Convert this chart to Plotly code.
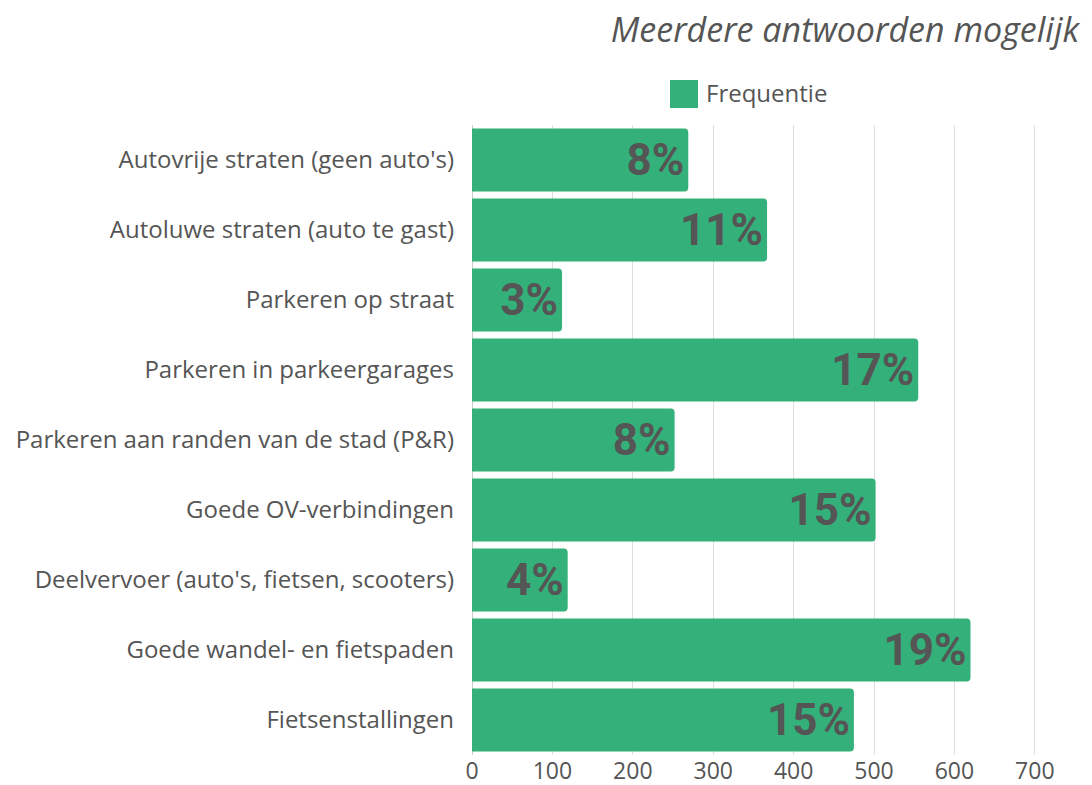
import plotly.graph_objects as go

categories = [
    "Autovrije straten (geen auto's)",
    "Autoluwe straten (auto te gast)",
    "Parkeren op straat",
    "Parkeren in parkeergarages",
    "Parkeren aan randen van de stad (P&R)",
    "Goede OV-verbindingen",
    "Deelvervoer (auto's, fietsen, scooters)",
    "Goede wandel- en fietspaden",
    "Fietsenstallingen",
]
frequencies = [269, 367, 112, 555, 252, 502, 119, 620, 475]
percent_labels = ["8%", "11%", "3%", "17%", "8%", "15%", "4%", "19%", "15%"]
x_ticks = [0, 100, 200, 300, 400, 500, 600, 700]
series_name = "Frequentie"
subtitle = "Meerdere antwoorden mogelijk"

GREEN = "#34B07A"
GREY = "#555555"

# page has an 8px body margin; figure is sized to fill the rest of the window
W, H = 1084, 777

fig = go.Figure()
fig.add_trace(go.Bar(
    y=categories,
    x=frequencies,
    orientation="h",
    name=series_name,
    marker=dict(color=GREEN, line=dict(width=0)),
    text=percent_labels,
    textposition="inside",
    insidetextanchor="end",
    constraintext="none",
    textfont=dict(family="Roboto, sans-serif", size=44, color=GREY, weight="bold"),
    hoverinfo="x+y",
    showlegend=False,
))

# legend swatch + label (drawn larger than Plotly's native legend symbol)
fig.add_shape(type="rect", xref="paper", yref="paper",
              x0=(670 - 472) / 603, x1=(698 - 472) / 603,
              y0=1 + (125 - 108) / 630, y1=1 + (125 - 80) / 630,
              fillcolor=GREEN, line=dict(width=0))
fig.add_annotation(text=series_name, xref="paper", yref="paper",
                   x=(704 - 472) / 603, xanchor="left",
                   y=1 + (125 - 93) / 630, yanchor="middle",
                   showarrow=False, font=dict(size=24, color=GREY))

# subtitle (italic) as a right-aligned annotation; padded with no-break spaces
# so the slanted glyphs stay inside the text box
fig.add_annotation(text="<i>\u00a0" + subtitle + "\u00a0</i>", xref="paper", yref="paper",
                   x=(1090 - 472) / 603, xanchor="right",
                   y=1 + (125 - 29) / 630, yanchor="middle",
                   showarrow=False,
                   font=dict(family="Open Sans, sans-serif", size=34, color=GREY))

fig.update_layout(
    width=W, height=H,
    margin=dict(l=464, r=17, t=117, b=30, autoexpand=False),
    paper_bgcolor="white", plot_bgcolor="white",
    bargap=0.1,
    barcornerradius=4,
    font=dict(family="Open Sans, sans-serif", color=GREY, size=24),
    xaxis=dict(range=[0, 750], tickvals=x_ticks, showgrid=True, automargin=False,
               gridcolor="#DDDDDD", gridwidth=1, zeroline=True,
               zerolinecolor="#CCCCCC", zerolinewidth=1,
               tickfont=dict(size=23, color=GREY), ticks="", showline=False),
    yaxis=dict(autorange="reversed", ticks="", ticklabelstandoff=17, automargin=False,
               tickfont=dict(size=24, color=GREY), showgrid=False),
)

fig.write_html("out.html")
